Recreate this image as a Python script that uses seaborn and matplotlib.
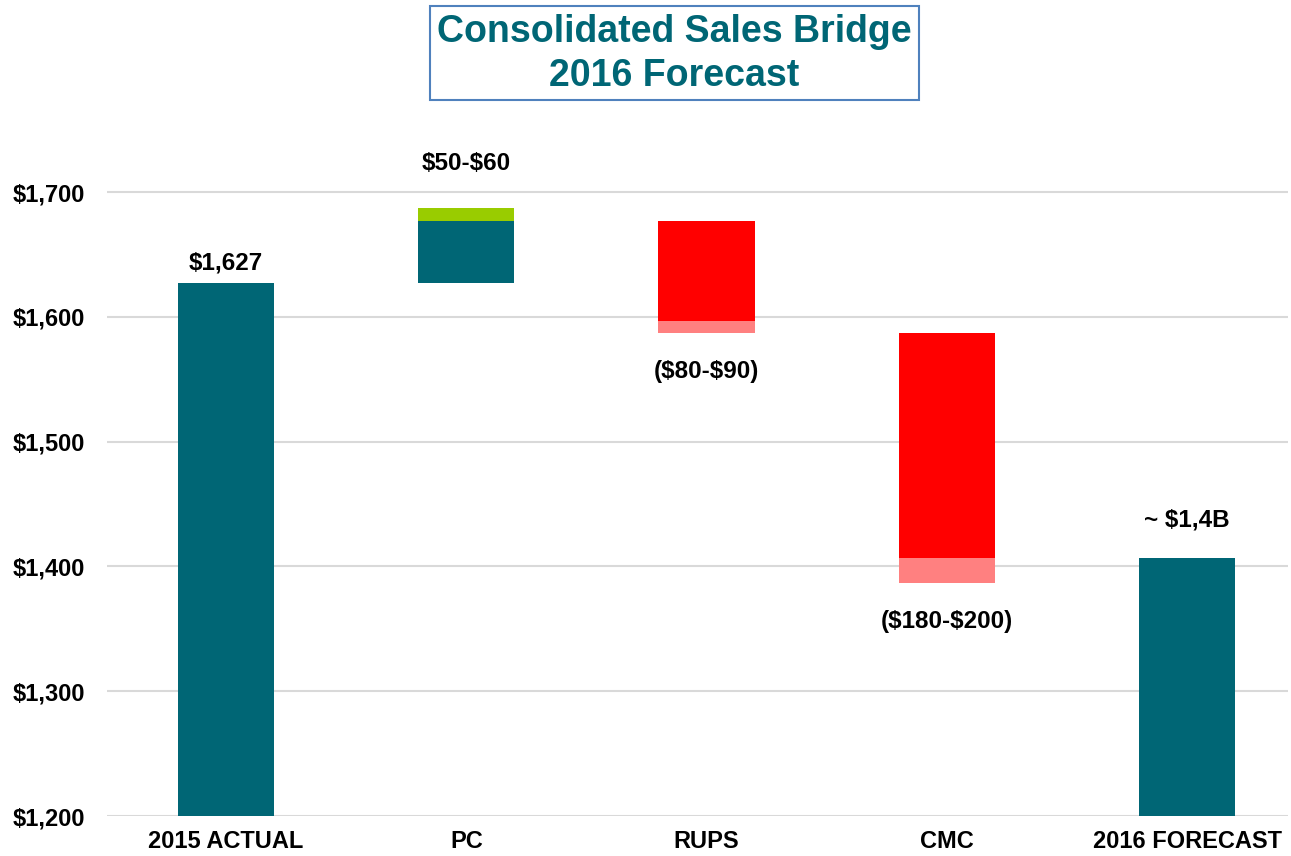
import numpy as np
import pandas as pd
import seaborn as sns
import matplotlib.pyplot as plt
from matplotlib.patches import Rectangle

# values ($M)
categories = ["2015 ACTUAL", "PC", "RUPS", "CMC", "2016 FORECAST"]
actual_2015 = 1627
pc_range = [50, 60]
rups_range = [80, 90]
cmc_range = [180, 200]
forecast_2016 = 1407
labels = [r"\$1,627", r"\$50-\$60", r"(\$80-\$90)", r"(\$180-\$200)", r"~ \$1,4B"]

teal = "#006675"
green = "#99CC00"
red = "#FF0000"
pink = "#FF8080"

sns.set_style("white")
plt.rcParams['font.family'] = ['Liberation Sans', 'DejaVu Sans']

fig = plt.figure(figsize=(12.91, 8.56), dpi=100)
ax = fig.add_axes([0.0829, 0.0467, 0.9148, 0.8019])

# totals
totals = pd.DataFrame({"cat": categories,
                       "value": [actual_2015, np.nan, np.nan, np.nan, forecast_2016]})
sns.barplot(data=totals, x="cat", y="value", color=teal, width=0.4,
            saturation=1, linewidth=0, ax=ax, zorder=3)

# floating segments
bar_kw = dict(width=0.4, linewidth=0, zorder=3)
pc_base = actual_2015
ax.bar(1, pc_range[0], bottom=pc_base, color=teal, **bar_kw)
ax.bar(1, pc_range[1] - pc_range[0], bottom=pc_base + pc_range[0], color=green, **bar_kw)

rups_top = pc_base + pc_range[0]
ax.bar(2, -rups_range[0], bottom=rups_top, color=red, **bar_kw)
ax.bar(2, -(rups_range[1] - rups_range[0]), bottom=rups_top - rups_range[0], color=pink, **bar_kw)

cmc_top = rups_top - rups_range[1]
ax.bar(3, -cmc_range[0], bottom=cmc_top, color=red, **bar_kw)
ax.bar(3, -(cmc_range[1] - cmc_range[0]), bottom=cmc_top - cmc_range[0], color=pink, **bar_kw)

# labels
lab_kw = dict(ha="center", va="center", fontsize=17.5, fontweight="bold", color="black")
ax.text(0, actual_2015 + 16, labels[0], **lab_kw)
ax.text(1, pc_base + pc_range[1] + 36, labels[1], **lab_kw)
ax.text(2, rups_top - rups_range[1] - 31, labels[2], **lab_kw)
ax.text(3, cmc_top - cmc_range[1] - 31, labels[3], **lab_kw)
ax.text(4, forecast_2016 + 30, labels[4], **lab_kw)

ax.set_ylim(1200, 1750)
ax.set_xlim(-0.495, 4.42)
ax.set_yticks(np.arange(1200, 1701, 100))
ax.set_yticklabels([f"${v:,}" for v in range(1200, 1701, 100)])
ax.yaxis.grid(True, color="#D9D9D9", linewidth=1.5, zorder=0)
ax.set_axisbelow(True)
ax.tick_params(axis="y", length=0, pad=16, labelsize=17, labelcolor="black")
ax.tick_params(axis="x", length=0, pad=10, labelsize=17, labelcolor="black")
for t in ax.get_xticklabels() + ax.get_yticklabels():
    t.set_fontweight("bold")
ax.set_xlabel("")
ax.set_ylabel("")
sns.despine(ax=ax, left=True, bottom=True, top=True, right=True)

# title box
fig.patches.append(Rectangle((430 / 1291, 1 - 100 / 856), 489 / 1291, 94 / 856,
                             transform=fig.transFigure, fill=False,
                             edgecolor="#4F81BD", linewidth=1.5))
fig.text(674.5 / 1291, 1 - 54 / 856, "Consolidated Sales Bridge\n2016 Forecast",
         ha="center", va="center", fontsize=27, fontweight="bold", color=teal,
         linespacing=1.3)

plt.savefig("out.png", dpi=100)
plt.close()
